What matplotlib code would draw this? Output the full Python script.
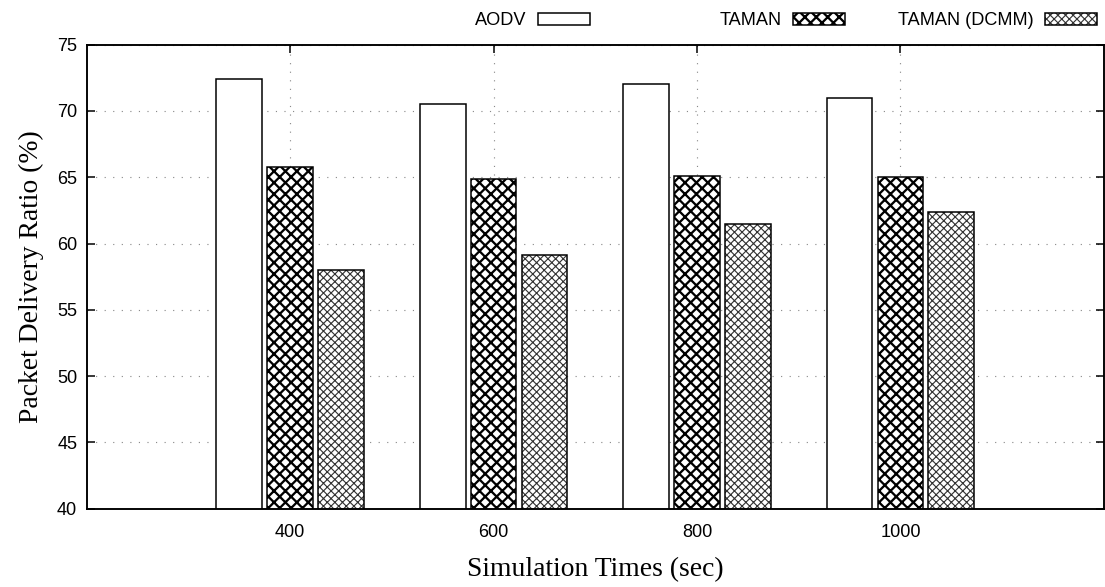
import matplotlib
matplotlib.use("Agg")
import matplotlib.pyplot as plt
from matplotlib.patches import Patch
from matplotlib.legend_handler import HandlerTuple
import numpy as np

# data
sim_times = ["400", "600", "800", "1000"]
aodv = [72.4, 70.55, 72.05, 71.0]
taman = [65.75, 64.85, 65.1, 65.05]
taman_dcmm = [58.0, 59.1, 61.45, 62.4]

DPI = 137
W_PX, H_PX = 1105, 587

plt.rcParams.update({
    "font.family": "Liberation Sans",
    "font.size": 9.5,
    "axes.linewidth": 1.0,
})

fig = plt.figure(figsize=(W_PX / DPI, H_PX / DPI), dpi=DPI)
ax = fig.add_axes([0.0785, 0.1334, 0.9205, 0.7905])

x = np.arange(1, len(sim_times) + 1)
bar_w = 0.225
offset = 0.25
edge_lw = 0.8
taman_hatch = "xxxx"
dcmm_hatch = "xxxxxx"
dcmm_hatch_col = "#333333"


def set_hatch_lw(artists, lw):
    # matplotlib 3.10+: per-patch hatch linewidth
    for a in artists:
        try:
            a.set_hatch_linewidth(lw)
        except AttributeError:
            pass


# AODV - plain white bars
ax.bar(x - offset, aodv, bar_w, color="white", edgecolor="black",
       linewidth=edge_lw, zorder=2)

# TAMAN - coarse black cross hatch
with plt.rc_context({"hatch.linewidth": 1.2}):
    bars = ax.bar(x, taman, bar_w, color="white", edgecolor="black",
                  hatch=taman_hatch, linewidth=edge_lw, zorder=2)
set_hatch_lw(bars, 1.2)

# TAMAN (DCMM) - fine dark cross hatch + black outline on top
with plt.rc_context({"hatch.linewidth": 0.6}):
    bars = ax.bar(x + offset, taman_dcmm, bar_w, color="white",
                  edgecolor=dcmm_hatch_col, hatch=dcmm_hatch, linewidth=0,
                  zorder=2)
set_hatch_lw(bars, 0.6)
ax.bar(x + offset, taman_dcmm, bar_w, fill=False, edgecolor="black",
       linewidth=edge_lw, zorder=2.1)

# axes, ticks, grid
ax.set_xlim(0, 5)
ax.set_ylim(40, 75)
ax.set_xticks(x, sim_times)
ax.set_yticks(range(40, 76, 5))
ax.tick_params(direction="in", top=True, right=True, length=4, width=0.8,
               labelsize=9.5)
ax.tick_params(axis="x", pad=8.3)
ax.tick_params(axis="y", pad=5)
ax.grid(True, color="#8a8a8a", linewidth=0.6, linestyle=(0, (1, 6.5)))
ax.set_axisbelow(True)

ax.set_xlabel("Simulation Times (sec)", family="Liberation Serif",
              fontsize=14.5)
ax.xaxis.set_label_coords(0.5, -0.104)
ax.set_ylabel("Packet Delivery Ratio (%)", family="Liberation Serif",
              fontsize=14.5)
ax.yaxis.set_label_coords(-0.042, 0.5)

# gnuplot-style key: each entry right aligned, sample box after the text
h_aodv = Patch(facecolor="white", edgecolor="black", linewidth=edge_lw)
h_taman = Patch(facecolor="white", edgecolor="black", hatch=taman_hatch,
                linewidth=edge_lw)
h_dcmm = (Patch(facecolor="white", edgecolor=dcmm_hatch_col, hatch=dcmm_hatch,
                linewidth=0),
          Patch(fill=False, edgecolor="black", linewidth=edge_lw))

key = [
    ("AODV", h_aodv, 590, 1.0),
    ("TAMAN", h_taman, 845, 1.2),
    ("TAMAN (DCMM)", h_dcmm, 1097, 0.6),
]
for label, handle, right_px, hlw in key:
    with plt.rc_context({"hatch.linewidth": hlw}):
        leg = fig.legend([handle], [label], loc="center right",
                         bbox_to_anchor=(right_px / W_PX, 1 - 20.5 / H_PX),
                         frameon=False, markerfirst=False,
                         handlelength=2.9, handleheight=0.67,
                         handletextpad=0.6, borderpad=0, borderaxespad=0,
                         fontsize=9.5,
                         handler_map={tuple: HandlerTuple(ndivide=1)})
    for p in leg.get_patches():
        try:
            p.set_hatch_linewidth(hlw)
        except AttributeError:
            pass

fig.savefig("out.png", dpi=DPI, facecolor="white")
